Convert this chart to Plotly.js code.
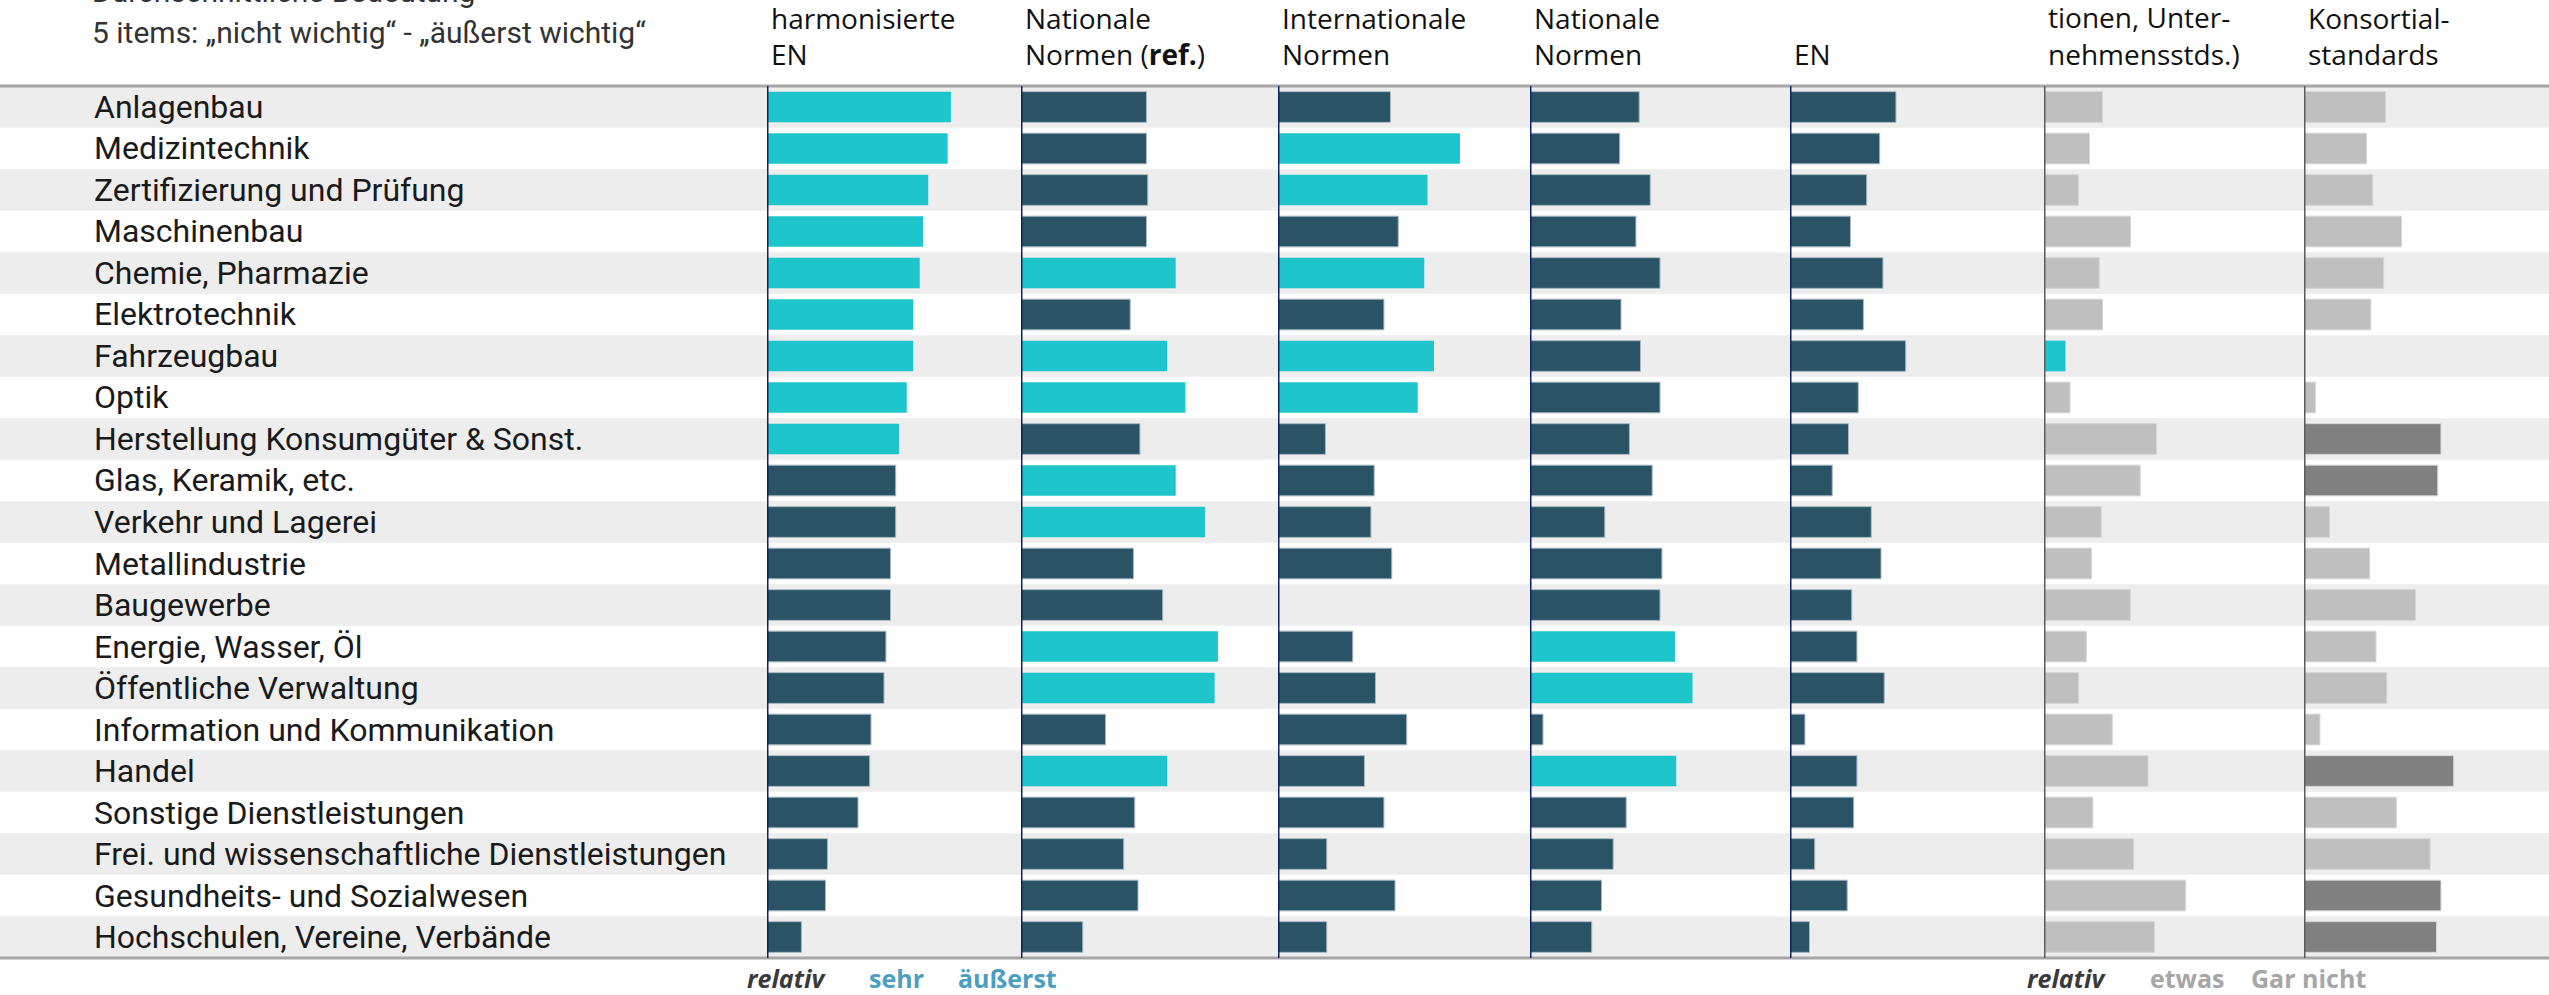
<!DOCTYPE html>
<html>
<head>
<meta charset="utf-8">
<script src="https://cdn.plot.ly/plotly-3.0.1.min.js"></script>
<style>
  body { margin: 0; background: #fff; overflow: hidden; }
  #chart { width: 2549px; height: 995px; }
</style>
</head>
<body>
<div id="chart"></div>
<script>
// Branchen (rows, top to bottom)
const sectors = [
  'Anlagenbau', 'Medizintechnik', 'Zertifizierung und Prüfung', 'Maschinenbau',
  'Chemie, Pharmazie', 'Elektrotechnik', 'Fahrzeugbau', 'Optik',
  'Herstellung Konsumgüter & Sonst.', 'Glas, Keramik, etc.', 'Verkehr und Lagerei',
  'Metallindustrie', 'Baugewerbe', 'Energie, Wasser, Öl', 'Öffentliche Verwaltung',
  'Information und Kommunikation', 'Handel', 'Sonstige Dienstleistungen',
  'Frei. und wissenschaftliche Dienstleistungen', 'Gesundheits- und Sozialwesen',
  'Hochschulen, Vereine, Verbände'
];

// Spaltenköpfe (erste Zeile von Spalte 6 liegt oberhalb des Bildausschnitts)
const headers = [
  'harmonisierte<br>EN',
  'Nationale<br>Normen (<b>ref.</b>)',
  'Internationale<br>Normen',
  'Nationale<br>Normen',
  'EN',
  '(Spezifika-<br>tionen, Unter-<br>nehmensstds.)',
  'Konsortial-<br>standards'
];
const subtitle = ['Durchschnittliche Bedeutung', '5 items: „nicht wichtig“ - „äußerst wichtig“'];

// durchschnittliche Bedeutung je Spalte (null = kein Balken)
const harmEN   = [2.83, 2.78, 2.48, 2.40, 2.35, 2.25, 2.25, 2.15, 2.03, 1.98, 1.98, 1.90, 1.90, 1.83, 1.80, 1.60, 1.58, 1.40, 0.93, 0.90, 0.53];
const natRef   = [1.93, 1.93, 1.95, 1.93, 2.38, 1.68, 2.25, 2.53, 1.83, 2.38, 2.83, 1.73, 2.18, 3.03, 2.98, 1.30, 2.25, 1.75, 1.58, 1.80, 0.95];
const intNorm  = [1.73, 2.80, 2.30, 1.85, 2.25, 1.63, 2.40, 2.15, 0.73, 1.48, 1.43, 1.75, null, 1.15, 1.50, 1.98, 1.33, 1.63, 0.75, 1.80, 0.75];
const natNorm  = [1.68, 1.38, 1.85, 1.63, 2.00, 1.40, 1.70, 2.00, 1.53, 1.88, 1.15, 2.03, 2.00, 2.23, 2.50, 0.20, 2.25, 1.48, 1.28, 1.10, 0.95];
const enNorm   = [1.63, 1.38, 1.18, 0.93, 1.43, 1.13, 1.78, 1.05, 0.90, 0.65, 1.25, 1.40, 0.95, 1.03, 1.45, 0.23, 1.03, 0.98, 0.38, 0.88, 0.30];
const spezUnt  = [0.90, 0.70, 0.53, 1.33, 0.85, 0.90, 0.33, 0.40, 1.73, 1.48, 0.88, 0.73, 1.33, 0.65, 0.53, 1.05, 1.60, 0.75, 1.38, 2.18, 1.70];
const konsStd  = [1.28, 0.98, 1.08, 1.53, 1.25, 1.05, null, 0.18, 2.15, 2.10, 0.40, 1.03, 1.75, 1.13, 1.30, 0.25, 2.35, 1.45, 1.98, 2.15, 2.08];

// Einstufung: 0 = normal, 1 = relativ sehr/äußerst (türkis), 2 = relativ gar nicht (dunkelgrau)
const lvHarmEN  = [1,1,1,1,1,1,1,1,1,0,0,0,0,0,0,0,0,0,0,0,0];
const lvNatRef  = [0,0,0,0,1,0,1,1,0,1,1,0,0,1,1,0,1,0,0,0,0];
const lvIntNorm = [0,1,1,0,1,0,1,1,0,0,0,0,0,0,0,0,0,0,0,0,0];
const lvNatNorm = [0,0,0,0,0,0,0,0,0,0,0,0,0,1,1,0,1,0,0,0,0];
const lvEnNorm  = [0,0,0,0,0,0,0,0,0,0,0,0,0,0,0,0,0,0,0,0,0];
const lvSpezUnt = [0,0,0,0,0,0,1,0,0,0,0,0,0,0,0,0,0,0,0,0,0];
const lvKonsStd = [0,0,0,0,0,0,0,0,2,2,0,0,0,0,0,0,2,0,0,2,2];

const W = 2549, H = 995;
const TOP = 86, BOTTOM = 958;
const AXIS_X = [767, 1021, 1278, 1530, 1790, 2044, 2304];
const COL_W = 250, UNIT_PX = 65;

const TEAL = '#1ec6cc', SLATE = '#2a5366', LIGHT = '#bfbfbf', DARKG = '#808080';
const NAVY = '#0c2461', AXGRAY = '#5c5c5c';

const px = x => x / W;
const py = y => 1 - y / H;

const columns = [
  {vals: harmEN, lv: lvHarmEN, grey: false},
  {vals: natRef, lv: lvNatRef, grey: false},
  {vals: intNorm, lv: lvIntNorm, grey: false},
  {vals: natNorm, lv: lvNatNorm, grey: false},
  {vals: enNorm, lv: lvEnNorm, grey: false},
  {vals: spezUnt, lv: lvSpezUnt, grey: true},
  {vals: konsStd, lv: lvKonsStd, grey: true}
];

function barColor(l, grey) {
  if (l === 1) return TEAL;
  if (l === 2) return DARKG;
  return grey ? LIGHT : SLATE;
}

const traces = columns.map((c, i) => ({
  type: 'bar',
  orientation: 'h',
  y: sectors,
  x: c.vals,
  xaxis: i ? 'x' + (i + 1) : 'x',
  yaxis: 'y',
  width: 0.74,
  hoverinfo: 'skip',
  marker: {
    color: c.lv.map(l => barColor(l, c.grey)),
    line: {
      color: c.lv.map(l => l === 1 ? TEAL : (c.grey ? '#d6d6d6' : '#a9b8c0')),
      width: c.lv.map(l => l === 1 ? 0 : 1)
    }
  }
}));

const layout = {
  width: W,
  height: H,
  margin: {l: 0, r: 0, t: 0, b: 0},
  paper_bgcolor: '#fff',
  plot_bgcolor: 'rgba(0,0,0,0)',
  showlegend: false,
  bargap: 0.26,
  yaxis: {
    type: 'category',
    autorange: 'reversed',
    domain: [py(BOTTOM), py(TOP)],
    showticklabels: false,
    showgrid: false,
    zeroline: false,
    anchor: 'x'
  },
  shapes: [],
  annotations: []
};

AXIS_X.forEach((a, i) => {
  layout[i ? 'xaxis' + (i + 1) : 'xaxis'] = {
    domain: [px(a), px(a + COL_W)],
    range: [0, COL_W / UNIT_PX],
    visible: false,
    anchor: 'y'
  };
});

// Zeilenbänder + Branchennamen
sectors.forEach((s, i) => {
  if (i % 2 === 0) {
    layout.shapes.push({
      type: 'rect', xref: 'paper', yref: 'y', layer: 'below',
      x0: 0, x1: 1, y0: i - 0.5, y1: i + 0.5,
      fillcolor: '#ededed', line: {width: 0}
    });
  }
  layout.annotations.push({
    xref: 'paper', yref: 'y', x: px(92), y: s, xanchor: 'left', yanchor: 'middle',
    text: s, showarrow: false,
    font: {family: 'Roboto', size: 32, color: '#1a1a1a'}
  });
});

// obere und untere Trennlinie
[TOP, BOTTOM].forEach(y => layout.shapes.push({
  type: 'line', xref: 'paper', yref: 'paper', x0: 0, x1: 1, y0: py(y), y1: py(y),
  line: {color: '#a6a6a6', width: 3}
}));

// Nulllinien je Spalte
AXIS_X.forEach((a, i) => layout.shapes.push({
  type: 'line', xref: i ? 'x' + (i + 1) : 'x', yref: 'paper',
  x0: 0, x1: 0, y0: py(BOTTOM), y1: py(TOP), layer: 'above',
  line: {color: i < 5 ? NAVY : AXGRAY, width: 3}
}));

// Spaltenköpfe
headers.forEach((t, i) => layout.annotations.push({
  xref: 'paper', yref: 'paper', x: px(AXIS_X[i] + 2), y: py(75),
  xanchor: 'left', yanchor: 'bottom', align: 'left', showarrow: false, text: t,
  font: {family: 'Open Sans', size: 28, color: '#111'}
}));

// Untertitel links oben
[11, 52].forEach((b, k) => layout.annotations.push({
  xref: 'paper', yref: 'paper', x: px(90), y: py(b),
  xanchor: 'left', yanchor: 'bottom', showarrow: false, text: subtitle[k],
  font: {family: 'Roboto', size: 30, color: '#333'}
}));

// Legenden unten
const legends = [
  {x: 745, t: '<b><i>relativ</i></b>', c: '#3a3a3a'},
  {x: 867, t: '<b>sehr</b>', c: '#4b9ec2'},
  {x: 956, t: '<b>äußerst</b>', c: '#4b9ec2'},
  {x: 2025, t: '<b><i>relativ</i></b>', c: '#3a3a3a'},
  {x: 2148, t: '<b>etwas</b>', c: '#a6a6a6'},
  {x: 2249, t: '<b>Gar nicht</b>', c: '#a6a6a6'}
];
legends.forEach(l => layout.annotations.push({
  xref: 'paper', yref: 'paper', x: px(l.x), y: py(997),
  xanchor: 'left', yanchor: 'bottom', showarrow: false, text: l.t,
  font: {family: 'Open Sans', size: 25, color: l.c}
}));

Plotly.newPlot('chart', traces, layout, {staticPlot: true});
</script>
</body>
</html>
